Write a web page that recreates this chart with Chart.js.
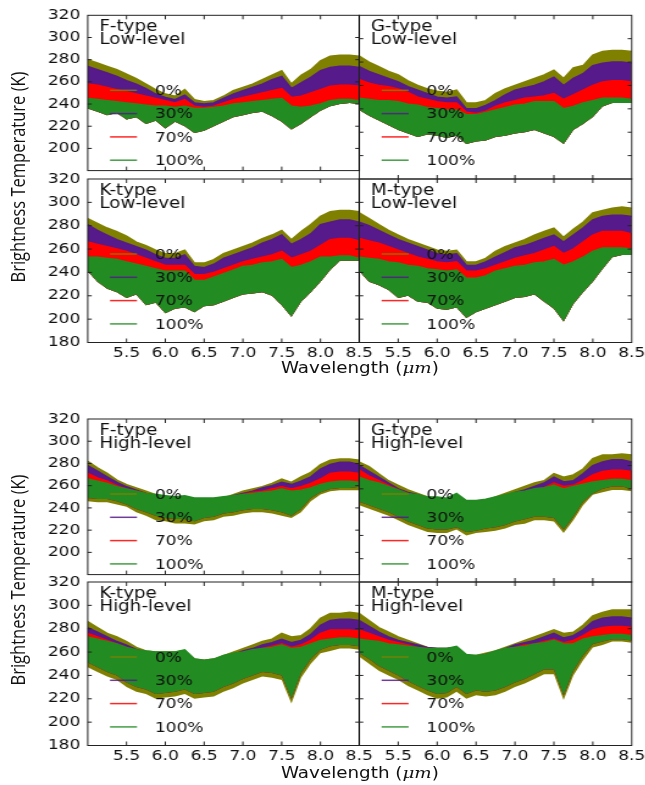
<!DOCTYPE html>
<html>
<head>
<meta charset="utf-8">
<script src="https://cdn.jsdelivr.net/npm/chart.js@4.4.1/dist/chart.umd.min.js"></script>
<style>
  html, body { margin: 0; padding: 0; background: #fff; }
  /* the reference figure is stretched sideways, so the whole stage is too */
  #stage { position: absolute; left: 0; top: 0; width: 530px; height: 785px;
           transform: scaleX(1.22); transform-origin: 0 0; }
  #stage canvas { position: absolute; }
  .ytitle { position: absolute; font-family: 'Open Sans'; font-size: 16.5px; color: #111;
            white-space: nowrap; transform: translate(-50%, -50%) rotate(-90deg); }
  .xtitle { position: absolute; font-family: 'DejaVu Sans'; font-size: 15px; color: #111;
            white-space: nowrap; transform: translate(-50%, -50%); }
  .xtitle i { font-family: 'DejaVu Serif'; }
</style>
</head>
<body>
<div id="stage">
  <div class="ytitle" style="left:14px; top:177px">Brightness Temperature (K)</div>
  <div class="ytitle" style="left:14px; top:580px">Brightness Temperature (K)</div>
  <div class="xtitle" style="left:295px; top:368px">Wavelength (<i>μm</i>)</div>
  <div class="xtitle" style="left:295px; top:773px">Wavelength (<i>μm</i>)</div>
</div>
<script>
// ---- data ----
const wavelengths = [5.0, 5.125, 5.25, 5.375, 5.5, 5.625, 5.75, 5.875, 6.0, 6.125, 6.25, 6.375, 6.5, 6.625,
                     6.75, 6.875, 7.0, 7.125, 7.25, 7.375, 7.5, 7.625, 7.75, 7.875, 8.0, 8.125, 8.25, 8.375, 8.5];
const seriesLabels = ['0%', '30%', '70%', '100%'];
const seriesColors = ['#808000', '#561a8b', '#ff0000', '#228b22'];

// upper envelopes [0%, 30%, 70%, 100%], lower envelope(s) below

const fLowTop = [
  [280,277,274,271,267,263,258,253,249,247,253,244,242,243,247,252,255,258,262,266,270,258,266,271,279,283,284,284,283],
  [274,271,268,265,261,258,254,249,246,244,248,241,240,241,245,249,252,255,258,262,265,254,259,264,270,273,274,274,273],
  [258,257,255,253,251,249,247,245,243,241,244,238,237,238,241,244,246,248,250,252,254,246,247,250,253,256,257,257,256],
  [245,244,243,242,241,240,239,238,238,237,238,236,236,237,238,240,241,242,243,244,245,238,237,238,240,243,244,244,243]
];
const fLowFloor = [236,233,230,232,226,228,222,225,218,224,220,214,216,220,224,228,230,232,233,229,224,217,222,228,234,238,240,241,240];

const gLowTop = [
  [285,280,276,272,269,264,260,257,255,254,256,245,245,247,253,257,260,263,266,269,273,266,275,277,286,289,290,290,289],
  [276,272,269,266,263,259,256,253,250,249,250,240,240,243,247,252,256,258,260,263,267,260,266,270,277,279,280,280,279],
  [265,262,260,259,257,254,250,248,246,245,245,237,236,238,242,245,247,249,250,251,253,248,252,256,260,263,264,264,263],
  [249,248,247,247,246,244,243,241,240,239,239,235,235,237,239,241,243,244,246,246,246,240,242,245,247,249,249,249,248]
];
const gLowFloor = [239,234,230,226,222,219,216,218,217,215,217,210,212,213,216,217,219,220,222,219,216,210,222,227,233,242,245,245,245];

const kLowTop = [
  [286,282,278,275,271,266,263,259,256,256,259,248,248,251,256,259,262,265,269,272,276,268,275,281,288,292,293,293,292],
  [281,276,272,268,265,262,259,255,252,252,255,245,244,247,252,255,258,261,265,268,272,264,268,273,281,283,285,285,283],
  [266,264,262,260,258,255,252,249,246,246,246,238,238,240,243,246,249,251,253,255,258,252,255,258,263,268,269,269,267],
  [253,253,252,251,249,247,245,243,241,241,241,233,233,236,239,242,245,246,248,249,251,244,246,249,253,253,254,254,252]
];
const kLowFloor = [241,232,226,223,218,221,212,214,205,209,210,206,211,212,215,218,221,222,223,220,212,202,215,223,232,242,250,250,250];

const mLowTop = [
  [291,286,281,276,272,268,265,262,259,258,259,249,249,252,258,262,265,268,272,275,278,270,277,283,291,293,295,296,295],
  [283,280,276,272,268,265,262,259,256,255,256,246,246,249,253,257,261,263,266,269,272,266,272,278,285,288,289,289,288],
  [269,267,265,262,259,256,253,251,249,248,249,241,241,243,246,249,252,254,256,259,262,256,260,266,272,275,275,275,273],
  [253,252,251,249,248,246,245,243,242,241,242,235,235,237,241,243,245,246,248,249,251,246,249,253,258,261,261,261,260]
];
const mLowFloor = [241,232,229,225,218,220,215,214,209,208,210,201,206,209,212,215,218,219,221,215,209,198,213,223,232,243,253,255,255];

const fHighTop = [
  [282,276,271,265,261,258,255,252,250,249,250,248,247,247,249,252,255,257,259,262,266,263,268,272,279,283,284,284,283],
  [278,273,268,263,259,256,253,251,249,248,249,247,246,246,248,251,253,255,258,260,263,261,264,268,275,279,281,281,279],
  [271,267,264,260,257,255,253,250,249,248,249,246,245,245,247,250,252,254,255,257,259,257,259,262,266,271,272,272,271],
  [266,264,262,259,257,255,253,252,251,250,251,249,249,249,250,251,252,253,254,255,257,255,256,258,261,263,264,264,263]
];
const fHighOliveBottom = [246,245,245,243,241,236,233,229,228,226,226,225,228,229,232,233,235,236,236,235,233,231,236,246,252,255,256,256,256];
const fHighGreenBottom = [249,248,248,246,243,239,236,233,231,230,230,228,231,232,235,236,238,239,239,238,236,233,239,249,254,257,258,258,259];

const gHighTop = [
  [283,279,273,267,263,259,256,253,252,250,253,249,249,250,253,256,259,262,265,267,273,270,272,277,286,289,289,290,289],
  [280,275,270,265,260,257,255,252,250,249,251,248,247,248,251,254,257,259,262,265,270,266,267,273,280,283,285,285,283],
  [276,271,267,263,259,256,253,251,250,249,250,247,246,247,250,253,255,257,259,261,265,262,263,267,272,275,276,276,275],
  [270,267,265,262,259,256,255,253,253,252,256,250,250,251,253,255,257,258,260,261,263,260,262,264,266,267,268,268,267]
];
const gHighOliveBottom = [246,243,240,237,233,229,226,223,222,222,225,220,222,223,224,226,229,230,233,233,232,222,233,246,255,257,259,259,258];
const gHighGreenBottom = [249,246,243,240,236,232,229,226,225,225,227,223,224,226,227,229,232,234,236,236,235,225,236,249,256,260,262,262,260];

const kHighTop = [
  [286,281,276,273,269,264,261,260,260,260,261,254,253,254,257,260,263,266,269,271,276,273,274,280,289,293,293,294,293],
  [281,277,273,269,266,262,260,259,259,259,260,253,252,253,256,258,261,263,266,268,271,268,270,275,283,287,288,288,287],
  [276,273,270,267,264,261,260,259,259,259,260,253,252,253,255,258,260,261,263,265,267,264,266,270,276,279,279,279,278],
  [273,271,269,267,264,262,261,260,260,260,262,254,253,254,257,259,260,262,263,264,266,263,264,267,270,271,272,272,271]
];
const kHighOliveBottom = [247,243,239,236,230,226,224,220,221,222,224,220,221,222,226,229,233,236,239,238,236,216,238,250,259,261,263,263,262];
const kHighGreenBottom = [251,247,243,240,234,230,228,224,225,226,228,224,225,226,230,233,237,240,243,242,240,220,242,254,262,265,266,266,265];

const mHighTop = [
  [293,287,281,277,273,270,267,264,263,263,264,257,257,259,261,264,267,270,273,276,279,276,277,283,291,294,296,296,296],
  [287,282,277,273,270,268,266,264,263,263,264,257,256,258,260,263,266,268,270,273,276,272,274,279,286,289,290,290,289],
  [279,276,273,270,268,266,264,263,262,262,263,256,256,257,259,262,264,266,267,269,271,268,270,274,279,281,282,282,281],
  [271,270,269,267,266,265,264,263,263,263,265,258,257,258,261,263,264,265,267,268,270,267,267,271,273,274,275,275,274]
];
const mHighOliveBottom = [256,250,244,240,236,231,227,223,220,221,226,220,223,222,223,226,230,233,237,241,241,219,240,253,264,266,269,269,268];
const mHighGreenBottom = [259,254,248,244,240,235,231,227,224,225,230,224,227,226,227,230,234,237,241,245,245,223,244,257,267,269,271,271,270];

const panels = [
  { title: ['F-type', 'Low-level'],  tops: fLowTop,  bottoms: [fLowFloor], col: 0, row: 0 },
  { title: ['G-type', 'Low-level'],  tops: gLowTop,  bottoms: [gLowFloor], col: 1, row: 0 },
  { title: ['K-type', 'Low-level'],  tops: kLowTop,  bottoms: [kLowFloor], col: 0, row: 1 },
  { title: ['M-type', 'Low-level'],  tops: mLowTop,  bottoms: [mLowFloor], col: 1, row: 1 },
  { title: ['F-type', 'High-level'], tops: fHighTop, bottoms: [fHighOliveBottom, fHighGreenBottom], col: 0, row: 2 },
  { title: ['G-type', 'High-level'], tops: gHighTop, bottoms: [gHighOliveBottom, gHighGreenBottom], col: 1, row: 2 },
  { title: ['K-type', 'High-level'], tops: kHighTop, bottoms: [kHighOliveBottom, kHighGreenBottom], col: 0, row: 3 },
  { title: ['M-type', 'High-level'], tops: mHighTop, bottoms: [mHighOliveBottom, mHighGreenBottom], col: 1, row: 3 }
];

// ---- layout (stage units, before the sideways stretch) ----
const canvasW = 312;
const cols = [ { left: 0, plotL: 71.9, plotR: 294.5 }, { left: 222, plotL: 294.5, plotR: 517.8 } ];
const rows = [
  { top: 0,   plotT: 15.3, plotB: 179,   h: 185, xLabels: false },
  { top: 164, plotT: 179,  plotB: 342.5, h: 210, xLabels: true },
  { top: 404, plotT: 419,  plotB: 582,   h: 185, xLabels: false },
  { top: 567, plotT: 582,  plotB: 745.5, h: 210, xLabels: true }
];
const tickFont = { family: 'DejaVu Sans', size: 14 };
const stage = document.getElementById('stage');

function decorPlugin(p) {
  return {
    id: 'decor',
    afterDatasetsDraw(chart) {
      const { ctx, chartArea: a } = chart;
      ctx.save();
      ctx.fillStyle = '#111';
      ctx.textAlign = 'left';
      ctx.font = '15px "DejaVu Sans"';
      ctx.textBaseline = 'alphabetic';
      ctx.fillText(p.title[0], a.left + 9.5, a.top + 15.5);
      ctx.fillText(p.title[1], a.left + 9.5, a.top + 29);
      ctx.font = '14px "DejaVu Sans"';
      ctx.textBaseline = 'middle';
      seriesLabels.forEach((lab, i) => {
        const y = a.top + 75 + i * 23.3;
        ctx.globalAlpha = 0.85;
        ctx.strokeStyle = seriesColors[i];
        ctx.lineWidth = 1.5;
        ctx.beginPath();
        ctx.moveTo(a.left + 18.3, y);
        ctx.lineTo(a.left + 40.4, y);
        ctx.stroke();
        ctx.globalAlpha = 1;
        ctx.fillText(lab, a.left + 55, y + 1);
      });
      ctx.restore();
    },
    afterDraw(chart) {
      const { ctx, chartArea: a, scales } = chart;
      ctx.save();
      ctx.strokeStyle = '#222';
      ctx.lineWidth = 1;
      ctx.beginPath();
      scales.x.ticks.forEach(t => {
        const px = scales.x.getPixelForValue(t.value);
        if (px <= a.left + 1 || px >= a.right - 1) return;
        ctx.moveTo(px, a.bottom); ctx.lineTo(px, a.bottom - 4);
        ctx.moveTo(px, a.top); ctx.lineTo(px, a.top + 4);
      });
      scales.y.ticks.forEach(t => {
        const py = scales.y.getPixelForValue(t.value);
        if (py <= a.top + 1 || py >= a.bottom - 1) return;
        ctx.moveTo(a.left, py); ctx.lineTo(a.left + 3.3, py);
        ctx.moveTo(a.right, py); ctx.lineTo(a.right - 3.3, py);
      });
      ctx.stroke();
      ctx.strokeRect(a.left, a.top, a.right - a.left, a.bottom - a.top);
      ctx.restore();
    }
  };
}

function buildPanel(p) {
  const c = cols[p.col], r = rows[p.row];
  const canvas = document.createElement('canvas');
  canvas.width = canvasW;
  canvas.height = r.h;
  canvas.style.left = c.left + 'px';
  canvas.style.top = r.top + 'px';
  stage.appendChild(canvas);

  const nTops = p.tops.length;
  const datasets = p.tops.map((vals, i) => ({
    label: seriesLabels[i],
    data: wavelengths.map((x, k) => ({ x: x, y: vals[k] })),
    borderColor: seriesColors[i],
    backgroundColor: seriesColors[i],
    borderWidth: 1.5,
    pointRadius: 0,
    fill: { target: nTops + Math.min(i, p.bottoms.length - 1) },
    order: nTops - i
  }));
  p.bottoms.forEach(vals => datasets.push({
    label: '',
    data: wavelengths.map((x, k) => ({ x: x, y: vals[k] })),
    borderColor: 'rgba(0,0,0,0)',
    borderWidth: 0,
    pointRadius: 0,
    fill: false,
    order: 10
  }));

  new Chart(canvas, {
    type: 'line',
    data: { datasets },
    options: {
      responsive: false,
      animation: false,
      devicePixelRatio: 1,
      layout: { padding: { left: 0, top: r.plotT - r.top, right: c.left + canvasW - c.plotR, bottom: 0 } },
      plugins: { legend: { display: false }, tooltip: { enabled: false } },
      scales: {
        x: {
          type: 'linear', min: 5, max: 8.5,
          grid: { display: false, drawTicks: false },
          border: { display: false },
          ticks: {
            display: r.xLabels, stepSize: 0.5, autoSkip: false, maxRotation: 0,
            padding: 2, color: '#111', font: tickFont,
            callback: v => Math.abs(v - 5) < 1e-6 ? '' : v.toFixed(1)
          },
          afterFit: s => { s.height = r.top + r.h - r.plotB; }
        },
        y: {
          min: 180, max: 320,
          grid: { display: false, drawTicks: false },
          border: { display: false },
          ticks: {
            display: p.col === 0, stepSize: 20, padding: 6, color: '#111', font: tickFont,
            callback: v => (!r.xLabels && v === 180) ? '' : String(v)
          },
          afterFit: s => { s.width = c.plotL - c.left; }
        }
      }
    },
    plugins: [decorPlugin(p)]
  });
}

panels.forEach(buildPanel);
</script>
</body>
</html>
